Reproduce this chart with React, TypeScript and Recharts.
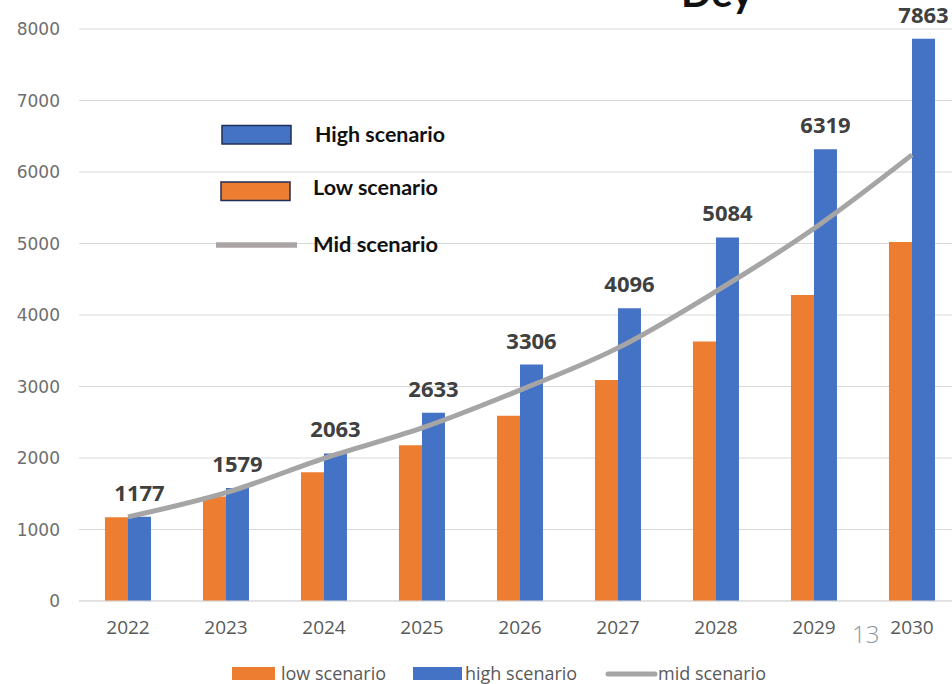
import { Bar, CartesianGrid, ComposedChart, LabelList, Line, XAxis, YAxis } from 'recharts'

const years = ['2022', '2023', '2024', '2025', '2026', '2027', '2028', '2029', '2030']
const lowScenario = [1170, 1460, 1800, 2180, 2590, 3090, 3630, 4280, 5020]
const highScenario = [1177, 1579, 2063, 2633, 3306, 4096, 5084, 6319, 7863]
const midScenario = [1177, 1515, 1995, 2420, 2950, 3540, 4330, 5210, 6240]
const yTicks = [0, 1000, 2000, 3000, 4000, 5000, 6000, 7000, 8000]

const ORANGE = '#ed7d31'
const BLUE = '#4472c4'
const GREY = '#a5a5a5'

const data = years.map((year, i) => ({
  year,
  low: lowScenario[i],
  high: highScenario[i],
  mid: midScenario[i],
}))

const boldLabel = { fontFamily: 'Lato', fontWeight: 'bold', fontSize: 20, fill: '#111' }
const legendText = { fontFamily: 'Open Sans', fontSize: 18, fill: '#595959' }

function Overlay() {
  return (
    <svg width={952} height={684} style={{ position: 'absolute', left: 0, top: 0, pointerEvents: 'none' }}>
      {/* heading cut off at the top edge */}
      <text x={681} y={7} fontFamily="Lato" fontWeight="bold" fontSize={40} fill="#111">Dey</text>

      {/* inline legend */}
      <rect x={222} y={125.5} width={69} height={18.5} fill={BLUE} stroke="#1f2f55" strokeWidth={1.5} />
      <text x={315} y={142} {...boldLabel} textLength={130} lengthAdjust="spacingAndGlyphs">High scenario</text>
      <rect x={221} y={182} width={69} height={18.5} fill={ORANGE} stroke="#1f2f55" strokeWidth={1.5} />
      <text x={313} y={195} {...boldLabel} textLength={125} lengthAdjust="spacingAndGlyphs">Low scenario</text>
      <line x1={216} y1={245} x2={297} y2={245} stroke="#aaa5a5" strokeWidth={5.5} />
      <text x={313} y={252} {...boldLabel} textLength={125} lengthAdjust="spacingAndGlyphs">Mid scenario</text>

      {/* page number */}
      <text x={852} y={643} fontFamily="Open Sans" fontWeight={300} fontSize={24} fill="#8c96a2">13</text>

      {/* bottom legend */}
      <rect x={232} y={667} width={43} height={13} fill={ORANGE} />
      <text x={281} y={680} {...legendText}>low scenario</text>
      <rect x={413} y={667} width={49} height={13} fill={BLUE} />
      <text x={465} y={680} {...legendText}>high scenario</text>
      <line x1={608} y1={674} x2={655} y2={674} stroke={GREY} strokeWidth={5} strokeLinecap="round" />
      <text x={658} y={680} {...legendText}>mid scenario</text>
    </svg>
  )
}

export default function App() {
  return (
    <div style={{ position: 'fixed', left: 0, top: 0, width: 952, height: 684, overflow: 'hidden', background: '#fff' }}>
      <ComposedChart
        width={961}
        height={684}
        data={data}
        margin={{ top: 29, right: 0, bottom: 43, left: 0 }}
        barCategoryGap="26.5%"
        barGap={0}
      >
        <CartesianGrid vertical={false} stroke="#d9d9d9" />
        <XAxis
          dataKey="year"
          axisLine={{ stroke: '#d9d9d9' }}
          tickLine={false}
          tickSize={0}
          tickMargin={20}
          height={40}
          tick={{ fontSize: 19, fill: '#595959', fontFamily: 'Open Sans' }}
        />
        <YAxis
          domain={[0, 8000]}
          ticks={yTicks}
          axisLine={false}
          tickLine={false}
          tickSize={0}
          tickMargin={19}
          width={79}
          tick={{ fontSize: 17, fill: '#6e6e6e', fontFamily: 'DejaVu Sans' }}
        />
        <Bar dataKey="low" fill={ORANGE} isAnimationActive={false} />
        <Bar dataKey="high" fill={BLUE} isAnimationActive={false}>
          <LabelList
            dataKey="high"
            position="top"
            offset={16}
            style={{ fontSize: 22, fontWeight: 'bold', fill: '#404040', fontFamily: 'Open Sans' }}
          />
        </Bar>
        <Line
          type="monotone"
          dataKey="mid"
          stroke={GREY}
          strokeWidth={5}
          dot={false}
          isAnimationActive={false}
        />
      </ComposedChart>
      <Overlay />
    </div>
  )
}
